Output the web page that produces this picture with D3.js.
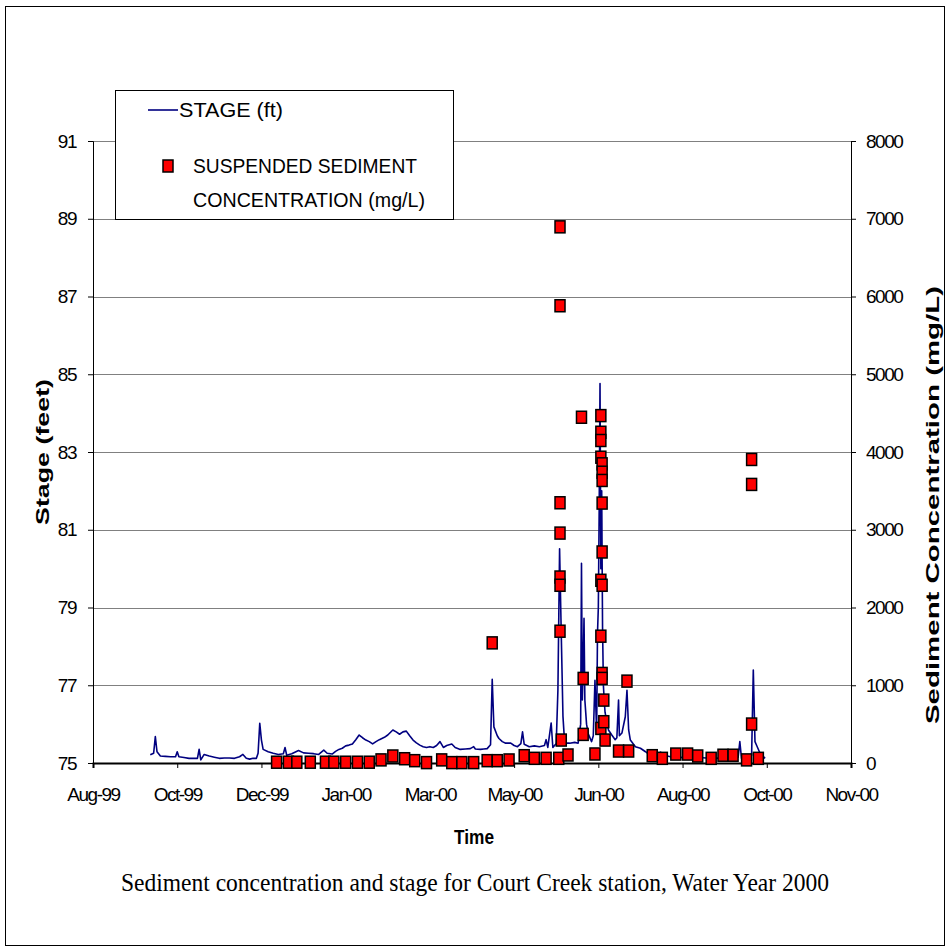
<!DOCTYPE html>
<html><head><meta charset="utf-8">
<script src="https://cdn.jsdelivr.net/npm/d3@7/dist/d3.min.js"></script>
<style>
html,body{margin:0;padding:0;background:#fff;}
</style></head>
<body><svg id="c" width="950" height="951" font-family="'Liberation Sans',Arial,sans-serif"></svg>
<script>
// ---- DATA ----
const xTickLabels = ["Aug-99","Oct-99","Dec-99","Jan-00","Mar-00","May-00","Jun-00","Aug-00","Oct-00","Nov-00"];
const xTickDates = ["1999-08-28","1999-10-17","1999-12-06","2000-01-25","2000-03-15","2000-05-04","2000-06-23","2000-08-12","2000-10-01","2000-11-20"];
const stageTicks = [75,77,79,81,83,85,87,89,91];
const concTicks = [0,1000,2000,3000,4000,5000,6000,7000,8000];

const stageDates = ["1999-10-01","1999-10-03","1999-10-04","1999-10-05","1999-10-07","1999-10-10","1999-10-13","1999-10-16","1999-10-17","1999-10-18","1999-10-21","1999-10-24","1999-10-27","1999-10-29","1999-10-30","1999-10-31","1999-11-02","1999-11-05","1999-11-08","1999-11-11","1999-11-14","1999-11-17","1999-11-20","1999-11-23","1999-11-25","1999-11-27","1999-11-29","1999-12-01","1999-12-03","1999-12-04","1999-12-05","1999-12-06","1999-12-07","1999-12-10","1999-12-13","1999-12-16","1999-12-19","1999-12-20","1999-12-21","1999-12-24","1999-12-28","1999-12-31","2000-01-03","2000-01-06","2000-01-09","2000-01-12","2000-01-14","2000-01-17","2000-01-19","2000-01-21","2000-01-23","2000-01-25","2000-01-27","2000-01-29","2000-01-31","2000-02-02","2000-02-04","2000-02-06","2000-02-08","2000-02-10","2000-02-12","2000-02-14","2000-02-17","2000-02-19","2000-02-22","2000-02-24","2000-02-26","2000-02-28","2000-03-01","2000-03-03","2000-03-05","2000-03-07","2000-03-09","2000-03-11","2000-03-13","2000-03-15","2000-03-17","2000-03-19","2000-03-21","2000-03-23","2000-03-25","2000-03-28","2000-03-30","2000-04-02","2000-04-05","2000-04-08","2000-04-10","2000-04-11","2000-04-14","2000-04-16","2000-04-18","2000-04-20","2000-04-21","2000-04-22","2000-04-24","2000-04-25","2000-04-27","2000-04-29","2000-05-02","2000-05-04","2000-05-06","2000-05-08","2000-05-09","2000-05-10","2000-05-13","2000-05-16","2000-05-19","2000-05-22","2000-05-23","2000-05-24","2000-05-26","2000-05-27","2000-05-29","2000-05-30","2000-05-31","2000-06-01","2000-06-02","2000-06-03","2000-06-06","2000-06-09","2000-06-11","2000-06-12T12:00","2000-06-13T00:00","2000-06-13T12:00","2000-06-14T00:00","2000-06-14T12:00","2000-06-15T00:00","2000-06-16","2000-06-17","2000-06-19","2000-06-20","2000-06-21","2000-06-22","2000-06-22T12:00","2000-06-23T00:00","2000-06-23T12:00","2000-06-24T00:00","2000-06-24T12:00","2000-06-25T00:00","2000-06-25T12:00","2000-06-26T00:00","2000-06-26T12:00","2000-06-27","2000-06-29","2000-07-01","2000-07-03","2000-07-04","2000-07-05","2000-07-05T12:00","2000-07-07","2000-07-09","2000-07-10","2000-07-11","2000-07-12","2000-07-15","2000-07-18","2000-07-21","2000-07-25","2000-07-28","2000-07-30","2000-07-31","2000-08-03","2000-08-06","2000-08-10","2000-08-14","2000-08-18","2000-08-22","2000-08-26","2000-08-30","2000-09-03","2000-09-07","2000-09-11","2000-09-14","2000-09-15","2000-09-16","2000-09-19","2000-09-22","2000-09-23","2000-09-24","2000-09-25","2000-09-27","2000-09-30"];
const stageValues = [75.21,75.25,75.68,75.29,75.18,75.17,75.16,75.16,75.29,75.16,75.14,75.12,75.12,75.12,75.35,75.08,75.22,75.18,75.15,75.12,75.13,75.13,75.12,75.16,75.22,75.12,75.10,75.12,75.12,75.25,76.02,75.59,75.35,75.29,75.25,75.22,75.24,75.40,75.20,75.24,75.32,75.26,75.25,75.24,75.22,75.33,75.25,75.23,75.30,75.35,75.38,75.44,75.46,75.49,75.60,75.72,75.65,75.59,75.55,75.49,75.55,75.60,75.66,75.72,75.85,75.80,75.74,75.80,75.82,75.70,75.59,75.52,75.46,75.42,75.40,75.42,75.40,75.45,75.55,75.40,75.45,75.49,75.40,75.35,75.36,75.37,75.42,75.36,75.35,75.36,75.37,75.47,77.15,75.93,75.70,75.63,75.55,75.51,75.51,75.45,75.42,75.50,75.80,75.48,75.42,75.44,75.42,75.45,75.60,75.40,76.03,75.40,75.50,76.87,80.51,78.30,76.20,75.51,75.51,75.53,75.51,76.00,80.14,76.62,77.47,78.72,76.62,76.00,75.75,75.55,75.70,77.13,75.80,78.34,79.00,81.50,84.76,80.00,82.00,78.50,77.00,76.60,76.30,75.85,75.72,75.60,75.65,76.62,75.70,75.77,76.19,76.87,75.85,75.59,75.42,75.38,75.29,75.16,75.24,75.28,75.16,75.18,75.15,75.14,75.15,75.13,75.14,75.13,75.12,75.13,75.12,75.12,75.15,75.55,75.12,75.11,75.20,77.39,75.55,75.45,75.25,75.12];

const sedDates = ["1999-12-15","1999-12-22","1999-12-27","2000-01-04","2000-01-13","2000-01-18","2000-01-25","2000-02-01","2000-02-08","2000-02-15","2000-02-22","2000-02-29","2000-03-06","2000-03-13","2000-03-22","2000-03-28","2000-04-03","2000-04-10","2000-04-18","2000-04-21","2000-04-24","2000-05-01","2000-05-10","2000-05-16","2000-05-23","2000-05-30T12:00","2000-05-31T06:00","2000-05-31T06:00","2000-05-31T06:00","2000-05-31T06:00","2000-05-31T06:00","2000-05-31T06:00","2000-05-31T06:00","2000-06-01","2000-06-05","2000-06-13","2000-06-14","2000-06-14","2000-06-21","2000-06-24T12:00","2000-06-24T12:00","2000-06-24T12:00","2000-06-24T12:00","2000-06-24T12:00","2000-06-24T12:00","2000-06-24T12:00","2000-06-25T06:00","2000-06-25T06:00","2000-06-25T06:00","2000-06-25T06:00","2000-06-25T06:00","2000-06-25T06:00","2000-06-25T06:00","2000-06-25T06:00","2000-06-26T06:00","2000-06-26T06:00","2000-06-27","2000-07-05","2000-07-10","2000-07-11","2000-07-25","2000-07-31","2000-08-08","2000-08-15","2000-08-21","2000-08-29","2000-09-05","2000-09-11","2000-09-19","2000-09-22","2000-09-22","2000-09-22","2000-09-26"];
const sedValues = [10,10,10,10,10,10,10,10,10,40,90,55,30,5,40,5,5,5,30,1545,30,39,94,60,60,60,6896,5881,3347,2957,2392,2286,1695,295,103,4447,1088,368,116,4468,4254,4148,3933,2350,1631,445,3848,3740,3634,3343,2714,2286,1152,1088,809,531,295,154,1053,154,94,60,115,115,90,60,100,100,40,501,3904,3583,60];

// ---- CHART ----
const parse = s => new Date(s.length > 10 ? s + "Z" : s + "T00:00:00Z");
const svg = d3.select("#c");
const L = 93, R = 851, T = 141, B = 763;

const x = d3.scaleUtc().domain([parse(xTickDates[0]), parse(xTickDates[xTickDates.length-1])]).range([L, R]);
const yS = d3.scaleLinear().domain([75, 91]).range([B, T]);
const yC = d3.scaleLinear().domain([0, 8000]).range([B, T]);

// outer border
svg.append("rect").attr("x",5.5).attr("y",6.5).attr("width",939).attr("height",939)
  .attr("fill","none").attr("stroke","#000").attr("stroke-width",1);

// gridlines
svg.append("g").selectAll("line").data(stageTicks.slice(1)).join("line")
  .attr("x1",L).attr("x2",R).attr("y1",d=>Math.round(yS(d))+0.5).attr("y2",d=>Math.round(yS(d))+0.5)
  .attr("stroke","#808080").attr("stroke-width",1);

// stage line
const stage = stageDates.map((d,i)=>({d:parse(d), v:stageValues[i]}));
svg.append("path").datum(stage)
  .attr("d", d3.line().x(p=>x(p.d)).y(p=>yS(p.v)))
  .attr("fill","none").attr("stroke","#000080").attr("stroke-width",1.6).attr("stroke-linejoin","round");

// axes
const tickFont = g => g.selectAll("text").attr("font-size","19px").attr("letter-spacing","-1.5px")
  .attr("font-family","'Liberation Sans',Arial,sans-serif").attr("fill","#000");

const gl = svg.append("g").attr("transform",`translate(${L},0)`)
  .call(d3.axisLeft(yS).tickValues(stageTicks).tickFormat(d3.format("d")).tickSize(5).tickPadding(12));
gl.select(".domain").attr("stroke","#000");
gl.call(tickFont);

const gr = svg.append("g").attr("transform",`translate(${R},0)`)
  .call(d3.axisRight(yC).tickValues(concTicks).tickFormat(d3.format("d")).tickSize(5).tickPadding(10));
gr.select(".domain").attr("stroke","#000");
gr.call(tickFont);

const gb = svg.append("g").attr("transform",`translate(0,${B})`)
  .call(d3.axisBottom(x).tickValues(xTickDates.map(parse)).tickFormat((d,i)=>xTickLabels[i]).tickSize(5).tickPadding(20));
gb.select(".domain").attr("stroke","#000").attr("stroke-width",2);
gb.call(tickFont);

// sediment squares
const sed = sedDates.map((d,i)=>({d:parse(d), v:sedValues[i]}));
svg.append("g").selectAll("rect").data(sed).join("rect")
  .attr("x",p=>x(p.d)-5).attr("y",p=>yC(p.v)-6).attr("width",10).attr("height",12)
  .attr("fill","#ff0000").attr("stroke","#000").attr("stroke-width",1.5);

// axis titles
svg.append("text").attr("transform",`translate(49,452) rotate(-90)`)
  .attr("text-anchor","middle").attr("font-weight","bold").attr("font-size","19px")
  .attr("textLength",146).attr("lengthAdjust","spacingAndGlyphs").text("Stage (feet)");
svg.append("text").attr("transform",`translate(939,505) rotate(-90)`)
  .attr("text-anchor","middle").attr("font-weight","bold").attr("font-size","18px")
  .attr("textLength",438).attr("lengthAdjust","spacingAndGlyphs").text("Sediment Concentration (mg/L)");
svg.append("text").attr("x",(L+R)/2+2).attr("y",844).attr("text-anchor","middle")
  .attr("font-weight","bold").attr("font-size","20px")
  .attr("textLength",40).attr("lengthAdjust","spacingAndGlyphs").text("Time");

// caption
svg.append("text").attr("x",475).attr("y",891).attr("text-anchor","middle")
  .attr("font-family","'Liberation Serif','Times New Roman',serif").attr("font-size","25px")
  .attr("textLength",708).attr("lengthAdjust","spacingAndGlyphs")
  .text("Sediment concentration and stage for Court Creek station, Water Year 2000");

// legend
const lg = svg.append("g");
lg.append("rect").attr("x",115.5).attr("y",90.5).attr("width",338).attr("height",129)
  .attr("fill","#fff").attr("stroke","#000").attr("stroke-width",1);
lg.append("line").attr("x1",148).attr("x2",178).attr("y1",110).attr("y2",110)
  .attr("stroke","#000080").attr("stroke-width",1.6);
lg.append("text").attr("x",179).attr("y",117).attr("font-size","20px")
  .attr("textLength",104).attr("lengthAdjust","spacingAndGlyphs").text("STAGE (ft)");
lg.append("rect").attr("x",163).attr("y",160).attr("width",10).attr("height",12)
  .attr("fill","#ff0000").attr("stroke","#000").attr("stroke-width",1.5);
lg.append("text").attr("x",193).attr("y",173).attr("font-size","21px")
  .attr("textLength",224).attr("lengthAdjust","spacingAndGlyphs").text("SUSPENDED SEDIMENT");
lg.append("text").attr("x",193).attr("y",207).attr("font-size","21px")
  .attr("textLength",232).attr("lengthAdjust","spacingAndGlyphs").text("CONCENTRATION (mg/L)");
</script></body></html>
